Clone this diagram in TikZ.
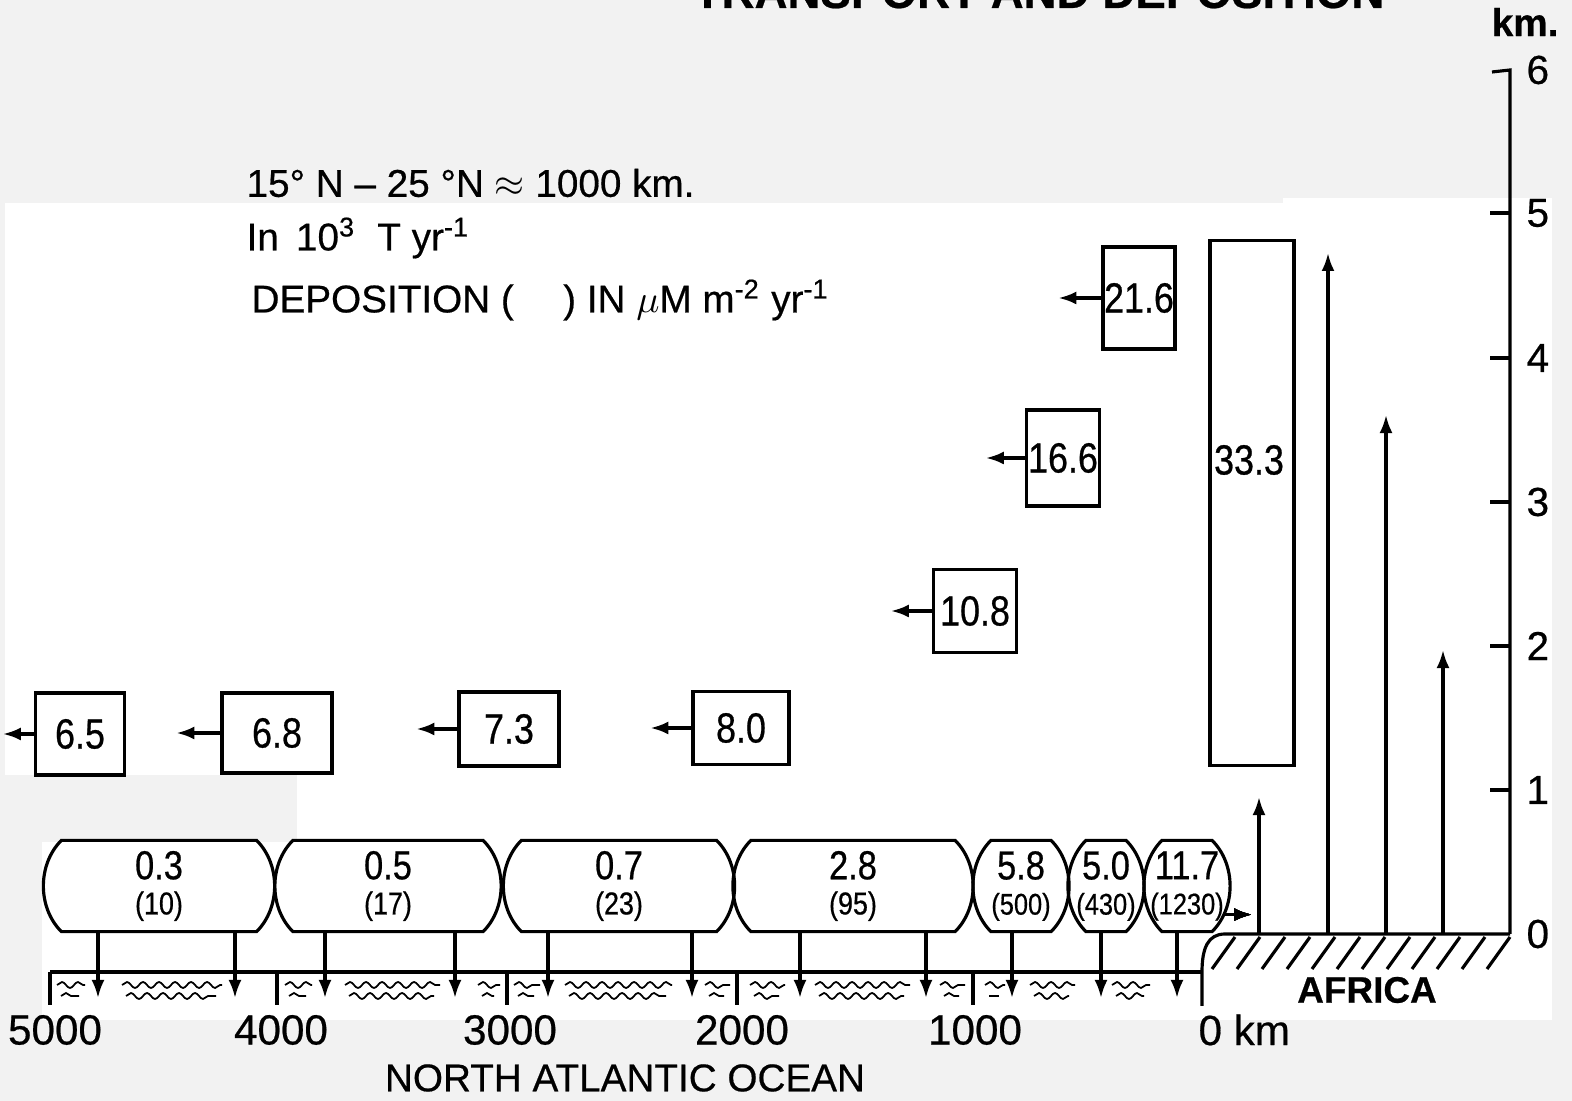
\documentclass[tikz,border=0pt]{standalone}
\usepackage{fontspec}
\setmainfont{Liberation Sans}[FakeBold=0.5]
\newfontfamily\narrowsf{Liberation Sans}[Ligatures=TeX, FakeStretch=0.85, FakeBold=0.6]
\usepackage{tikz}
\usetikzlibrary{arrows.meta, decorations.pathmorphing}
\definecolor{scangray}{gray}{0.95}
\newcommand{\fsz}[1]{\fontsize{#1}{#1}\selectfont}
% barrel outline round a capsule node
\newcommand{\barrel}[1]{\draw (#1.north west) -- (#1.north east)
  .. controls +(24,24) and +(24,-24) .. (#1.south east) -- (#1.south west)
  .. controls +(-24,-24) and +(-24,24) .. (#1.north west) -- cycle;}
\newcommand{\wavepair}[2]{\draw[wave] (#1,985) -- (#2,985);
  \draw[wave] ({#1+4},996) -- ({#2-6},996);}
% two-line capsule text that never widens the node
\newcommand{\captext}[3]{{\fsz{11.5}\makebox[0pt]{#1}}\\[-2pt]{\fsz{#3}\makebox[0pt]{#2}}}
\tikzset{
  fluxbox/.style={draw, inner sep=0pt, font=\narrowsf\fsz{12}},
  flux/.style={-{Latex[length=1.8mm,width=1.3mm]}},
  capsule/.style={inner sep=0pt, minimum height=0.88cm, align=center, font=\narrowsf},
  wave/.style={line width=0.5pt, decorate, decoration={snake, segment length=1.6mm, amplitude=0.3mm}},
  axlabel/.style={anchor=west, inner sep=0pt, font=\fsz{11.5}},
  legend/.style={anchor=west, inner sep=0pt, font=\fsz{11}},
  kmlabel/.style={inner sep=0pt, font=\fsz{12}},
}

\begin{document}
\begin{tikzpicture}[x=0.01cm, y=-0.01cm, line width=0.9pt]
  % scanned page background
  \fill[scangray] (0,0) rectangle (1572,1101);
  \fill[white] (5,203) rectangle (1283,775);
  \fill[white] (1283,198) rectangle (1552,1020);
  \fill[white] (297,775) rectangle (1283,842);
  \fill[white] (42,842) rectangle (1283,1020);
  \useasboundingbox (0,0) rectangle (1572,1101);

  % cut-off title
  \begin{scope}
    \clip (0,0) rectangle (1572,12);
    \node[anchor=base east, inner sep=0pt, font=\fsz{13}\bfseries] (title) at (1386,8) {TRANSPORT AND DEPOSITION};
  \end{scope}

  % legend
  \node[legend] (lat) at (245,183) {15° N – 25 °N $\approx$ 1000 km.};
  \node[legend] (unit) at (245,238) {In\, 10\textsuperscript{3}\; T yr\textsuperscript{-1}};
  \node[legend] (dep) at (250,300) {DEPOSITION (\quad\ ) IN $\mu$M m\textsuperscript{-2} yr\textsuperscript{-1}};

  % westward flux boxes
  \node[fluxbox, minimum width=0.89cm, minimum height=0.82cm] (b65) at (80,734) {6.5};
  \node[fluxbox, minimum width=1.10cm, minimum height=0.80cm] (b68) at (277,733) {6.8};
  \node[fluxbox, minimum width=1.00cm, minimum height=0.74cm] (b73) at (509,729) {7.3};
  \node[fluxbox, minimum width=0.96cm, minimum height=0.73cm] (b80) at (741,728) {8.0};
  \node[fluxbox, minimum width=0.83cm, minimum height=0.83cm] (b108) at (975,611) {10.8};
  \node[fluxbox, minimum width=0.73cm, minimum height=0.96cm] (b166) at (1063,458) {16.6};
  \node[fluxbox, minimum width=0.72cm, minimum height=1.02cm] (b216) at (1139,298) {21.6};
  \node[fluxbox, minimum width=0.84cm, minimum height=5.25cm] (b333) at (1252,503) {};
  \node[font=\narrowsf\fsz{12}, inner sep=0pt] (t333) at (1249,460) {33.3};

  \foreach \bn/\bl in {b65/31, b68/44, b73/41, b80/41, b108/41, b166/39, b216/43}
    \draw[flux] (\bn.west) -- ++(-\bl,0);

  % uplift over Africa
  \foreach \ux/\uy in {1259/797, 1328/253, 1386/415, 1443/650}
    \draw[flux] (\ux,934) -- (\ux,\uy);

  % height axis
  \draw (1492,72) -- (1510,70) -- (1510,934);
  \foreach \ky in {790,646,502,358,213}
    \draw (1490,\ky) -- (1510,\ky);
  \foreach \k/\ky in {0/934, 1/790, 2/646, 3/502, 4/358, 5/213, 6/70}
    \node[axlabel] (h\k) at (1525,\ky) {\k};
  \node[anchor=east, inner sep=0pt, font=\fsz{11}\bfseries] (kmu) at (1560,22) {km.};

  % Africa ground and coast
  \draw (50,972) -- (1202,972);
  \draw (1202,1006) -- (1202,972) .. controls (1202,948) and (1208,934) .. (1225,934) -- (1510,934);
  \foreach \hx in {1235,1260,...,1510}
    \draw (\hx,937) -- ++(-23,32);
  \node[font=\fsz{10.5}\bfseries, inner sep=0pt] (africa) at (1367,990) {AFRICA};

  % capsules
  \node[capsule, minimum width=1.92cm] (c1) at (159,886) {\captext{0.3}{(10)}{9}};
  \node[capsule, minimum width=1.87cm] (c2) at (388,886) {\captext{0.5}{(17)}{9}};
  \node[capsule, minimum width=1.92cm] (c3) at (619,886) {\captext{0.7}{(23)}{9}};
  \node[capsule, minimum width=2.01cm] (c4) at (853,886) {\captext{2.8}{(95)}{9}};
  \node[capsule, minimum width=0.57cm] (c5) at (1021,886) {\captext{5.8}{(500)}{8.5}};
  \node[capsule, minimum width=0.37cm] (c6) at (1106,886) {\captext{5.0}{(430)}{8.5}};
  \node[capsule, minimum width=0.47cm] (c7) at (1187,886) {\captext{11.7}{(1230)}{8.5}};
  \foreach \cn in {c1,c2,c3,c4,c5,c6,c7}
    \barrel{\cn}
  \draw[flux] (c7.south east) ++(12,-17) -- ++(28,0);

  % deposition to the ocean
  \foreach \cn/\dx in {c1/98, c1/235, c2/325, c2/455, c3/548, c3/692,
                       c4/800, c4/926, c5/1012, c6/1101, c7/1177}
    \draw[flux] (\cn.south -| \dx,0) -- (\dx,998);

  % ocean surface
  \foreach \ox in {50,277,507,737,973}
    \draw (\ox,972) -- (\ox,1005);
  \wavepair{57}{85} \wavepair{122}{222}
  \wavepair{285}{312} \wavepair{345}{440} \wavepair{478}{500}
  \wavepair{514}{540} \wavepair{565}{672} \wavepair{705}{730}
  \wavepair{750}{785} \wavepair{815}{910} \wavepair{940}{965}
  \wavepair{985}{1005} \wavepair{1030}{1075} \wavepair{1112}{1150}

  % distance labels
  \node[kmlabel] (x5) at (55,1030) {5000};
  \node[kmlabel] (x4) at (281,1030) {4000};
  \node[kmlabel] (x3) at (510,1030) {3000};
  \node[kmlabel] (x2) at (742,1030) {2000};
  \node[kmlabel] (x1) at (975,1030) {1000};
  \node[kmlabel, anchor=west] (x0) at (1197,1030) {0 km};
  \node[inner sep=0pt, font=\fsz{11}] (ocean) at (625,1078) {NORTH ATLANTIC OCEAN};
\end{tikzpicture}
\end{document}
